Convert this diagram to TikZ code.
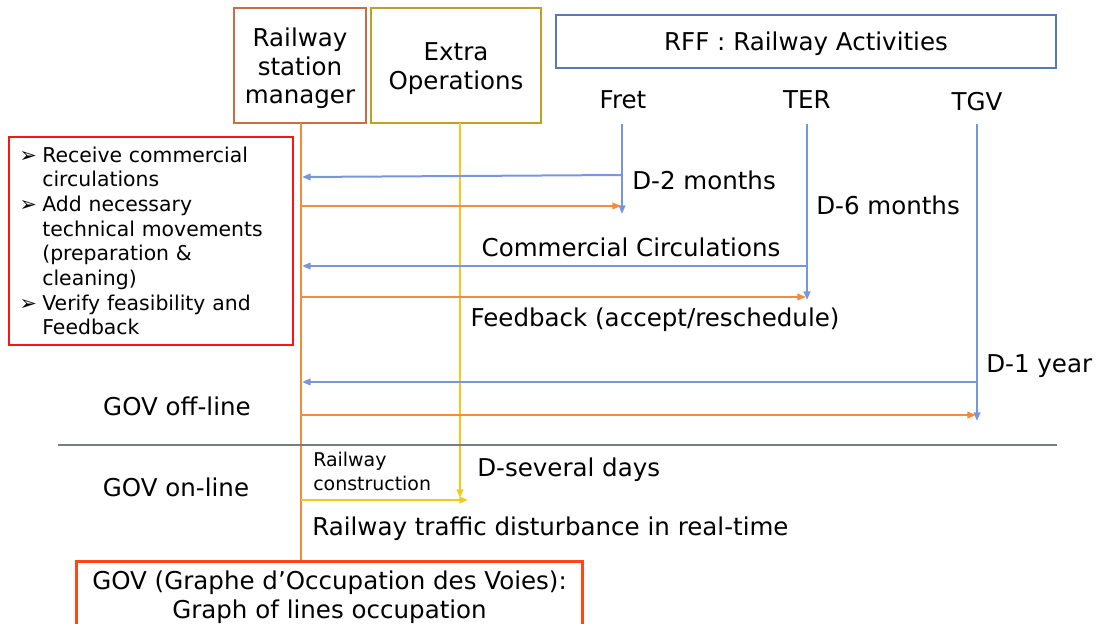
\documentclass[tikz,border=0pt]{standalone}
\usepackage{fontspec}
\setmainfont{DejaVu Sans}
\usetikzlibrary{arrows.meta}
\definecolor{mgr}{RGB}{200,110,70}
\definecolor{xop}{RGB}{190,160,40}
\definecolor{rff}{RGB}{90,120,180}
\definecolor{orline}{RGB}{245,140,60}
\definecolor{blline}{RGB}{120,150,220}
\definecolor{yeline}{RGB}{245,200,30}
\definecolor{redbox}{RGB}{255,20,20}
\definecolor{govbox}{RGB}{255,70,20}
\definecolor{sepline}{RGB}{120,125,130}
\newcommand{\bulletarrow}{\makebox[17pt][l]{\fontsize{15.5}{18.5}\selectfont ➢}}
\begin{document}
\begin{tikzpicture}[x=0.75pt,y=-0.75pt,
  big/.style={font=\fontsize{18.4}{21.5}\selectfont},
  header/.style={draw, line width=1.6pt},
  lbl/.style={big, inner sep=0pt},
  tiparrow/.style={-{Triangle[length=6.5pt,width=5pt]}},
  flow/.style={line width=1.5pt, tiparrow}]
\useasboundingbox (0,0) rectangle (1099,624);

% header boxes
\node[header, draw=mgr, minimum width=99pt, minimum height=86pt] (mgr) at (300,65.5) {};
\node[lbl, align=center] (mgrtext) at (300,68.5) {Railway\\station\\manager};
\node[header, draw=xop, minimum width=127.5pt, minimum height=86pt] (xop) at (456,65.5) {};
\node[lbl, align=center] (xoptext) at (456,68.5) {Extra\\Operations};
\node[header, draw=rff, minimum width=375pt, minimum height=39.75pt] (rff) at (806,41.5) {};
\node[lbl] (rfftext) at (806,43.5) {RFF : Railway Activities};

\node[lbl] (fret) at (623,100) {Fret};
\node[lbl] (ter) at (807,100) {TER};
\node[lbl] (tgv) at (977,102) {TGV};

% GOV box
\node[draw=govbox, line width=2.2pt, big, align=center, minimum width=380pt, minimum height=54pt, anchor=north, inner ysep=2pt] (gov) at (329.5,560) {GOV (Graphe d’Occupation des Voies):\\Graph of lines occupation};

% red box
\node[draw=redbox, line width=2pt, minimum width=213pt, minimum height=156pt, text width=197pt, inner xsep=8pt, align=left, font=\fontsize{15.3}{18.5}\selectfont] (tasks) at (151,241)
{\bulletarrow Receive commercial\\
 \hspace*{17pt}circulations\\
 \bulletarrow Add necessary\\
 \hspace*{17pt}technical movements\\
 \hspace*{17pt}(preparation \&\\
 \hspace*{17pt}cleaning)\\
 \bulletarrow Verify feasibility and\\
 \hspace*{17pt}Feedback};

% coordinates
\coordinate (fA) at (622,124); \coordinate (fB) at (622,214);
\coordinate (tA) at (807,124); \coordinate (tB) at (807,300);
\coordinate (gA) at (977,124); \coordinate (gB) at (977,421);
\coordinate (oTop) at (301,123);
\coordinate (yA) at (460,123); \coordinate (yB) at (460,498);
\coordinate (f1) at (622,175); \coordinate (m1) at (302,177);
\coordinate (m2) at (301,206); \coordinate (f2) at (621,206);
\coordinate (t1) at (807,266); \coordinate (m3) at (302,266);
\coordinate (m4) at (301,297); \coordinate (t2) at (806,297);
\coordinate (g1) at (977,382); \coordinate (m5) at (302,382);
\coordinate (m6) at (301,415); \coordinate (g2) at (976,415);
\coordinate (m7) at (301,500); \coordinate (y2) at (468,500);
\coordinate (sL) at (58,445); \coordinate (sR) at (1057,445);

% trunks
\draw[line width=1.5pt, orline] (oTop) -- (oTop |- gov.north);
\draw[flow, yeline] (yA) -- (yB);
\draw[flow, blline] (fA) -- (fB);
\draw[flow, blline] (tA) -- (tB);
\draw[flow, blline] (gA) -- (gB);

% exchanges
\draw[flow, blline] (f1) -- (m1);
\draw[flow, orline] (m2) -- (f2);
\draw[flow, blline] (t1) -- (m3);
\draw[flow, orline] (m4) -- (t2);
\draw[flow, blline] (g1) -- (m5);
\draw[flow, orline] (m6) -- (g2);
\draw[flow, yeline] (m7) -- (y2);

% separator
\draw[sepline, line width=2.2pt] (sL) -- (sR);

% labels
\node[lbl, anchor=west] (d2m) at (632,180) {D-2 months};
\node[lbl, anchor=west] (d6m) at (816,205) {D-6 months};
\node[lbl] (cc) at (631,247) {Commercial Circulations};
\node[lbl] (fb) at (655,320) {Feedback (accept/reschedule)};
\node[lbl, anchor=west] (d1y) at (986,366) {D-1 year};
\node[lbl] (off) at (177,406) {GOV off-line};
\node[lbl] (on) at (176,487) {GOV on-line};
\node[inner sep=0pt, anchor=west, align=left, font=\fontsize{14.2}{18}\selectfont] (rc) at (313,471) {Railway\\construction};
\node[lbl, anchor=west] (dsd) at (477,470) {D-several days};
\node[lbl, anchor=west] (rt) at (312,529) {Railway traffic disturbance in real-time};
\end{tikzpicture}
\end{document}
